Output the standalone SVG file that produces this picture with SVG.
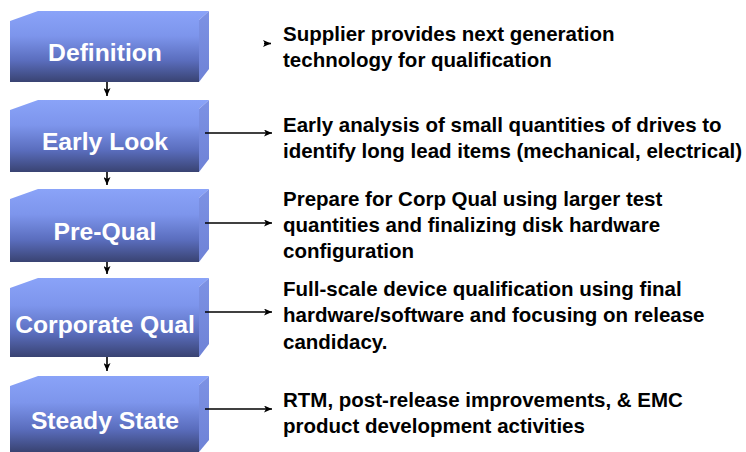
<svg xmlns="http://www.w3.org/2000/svg" width="746" height="452" viewBox="0 0 746 452">
  <defs>
    <linearGradient id="faceGrad" x1="0" y1="0" x2="0" y2="1">
      <stop offset="0" stop-color="#8aa3f8"/>
      <stop offset="0.35" stop-color="#7d95ec"/>
      <stop offset="0.7" stop-color="#5a6dbd"/>
      <stop offset="1" stop-color="#394372"/>
    </linearGradient>
    <linearGradient id="sideGrad" x1="0" y1="0" x2="0" y2="1">
      <stop offset="0" stop-color="#7d92e4"/>
      <stop offset="1" stop-color="#6e82d6"/>
    </linearGradient>
    <marker id="head" viewBox="0 0 8 7" refX="8" refY="3.5" markerWidth="8" markerHeight="7" markerUnits="userSpaceOnUse" orient="auto">
      <path d="M0,0 L8,3.5 L0,7 L2,3.5 z" fill="#000"/>
    </marker>
    <style>
      .front { fill: url(#faceGrad); }
      .side { fill: url(#sideGrad); }
      .label { font-family: "Liberation Sans", Arial, sans-serif; font-weight: bold; font-size: 24.7px; fill: #fff; text-anchor: middle; }
      .desc { font-family: "Liberation Sans", Arial, sans-serif; font-weight: bold; font-size: 20.5px; fill: #000; }
      .link { stroke: #000; stroke-width: 1.6; fill: none; marker-end: url(#head); }
    </style>
  </defs>

  <!-- stage boxes -->
  <g id="definition">
    <polygon class="front" points="10,21 38,11 209,11 199,20 199,82 10,82"/>
    <polygon class="side" points="199,20 209,11 209,69 199,82"/>
    <text class="label" x="105" y="61">Definition</text>
  </g>
  <g id="early-look">
    <polygon class="front" points="10,110 38,100 209,100 199,109 199,172 10,172"/>
    <polygon class="side" points="199,109 209,100 209,159 199,172"/>
    <text class="label" x="105" y="150">Early Look</text>
  </g>
  <g id="pre-qual">
    <polygon class="front" points="10,199 38,189 209,189 199,198 199,262 10,262"/>
    <polygon class="side" points="199,198 209,189 209,249 199,262"/>
    <text class="label" x="105" y="240">Pre-Qual</text>
  </g>
  <g id="corporate-qual">
    <polygon class="front" points="10,288 38,278 209,278 199,287 199,357 10,357"/>
    <polygon class="side" points="199,287 209,278 209,344 199,357"/>
    <text class="label" x="105" y="333">Corporate Qual</text>
  </g>
  <g id="steady-state">
    <polygon class="front" points="10,386 38,376 209,376 199,385 199,452 10,452"/>
    <polygon class="side" points="199,385 209,376 209,440 199,452"/>
    <text class="label" x="105" y="429">Steady State</text>
  </g>

  <!-- stage descriptions -->
  <g id="definition-note">
    <text class="desc" x="283" y="41">Supplier provides next generation</text>
    <text class="desc" x="283" y="67">technology for qualification</text>
  </g>
  <g id="early-look-note">
    <text class="desc" x="283" y="132">Early analysis of small quantities of drives to</text>
    <text class="desc" x="283" y="158">identify long lead items (mechanical, electrical)</text>
  </g>
  <g id="pre-qual-note">
    <text class="desc" x="283" y="206">Prepare for Corp Qual using larger test</text>
    <text class="desc" x="283" y="232">quantities and finalizing disk hardware</text>
    <text class="desc" x="283" y="258">configuration</text>
  </g>
  <g id="corporate-qual-note">
    <text class="desc" x="283" y="296">Full-scale device qualification using final</text>
    <text class="desc" x="283" y="322">hardware/software and focusing on release</text>
    <text class="desc" x="283" y="349">candidacy.</text>
  </g>
  <g id="steady-state-note">
    <text class="desc" x="283" y="407">RTM, post-release improvements, &amp; EMC</text>
    <text class="desc" x="283" y="433">product development activities</text>
  </g>

  <!-- connectors -->
  <g id="connectors">
    <path class="link" d="M107,82 V96"/>
    <path class="link" d="M107,172 V185"/>
    <path class="link" d="M107,262 V274"/>
    <path class="link" d="M107,357 V371"/>
    <path class="link" d="M264,43.5 H271" stroke="none"/>
    <path class="link" d="M205,133 H272"/>
    <path class="link" d="M205,223 H272"/>
    <path class="link" d="M205,312 H272"/>
    <path class="link" d="M205,409 H272"/>
  </g>
</svg>
